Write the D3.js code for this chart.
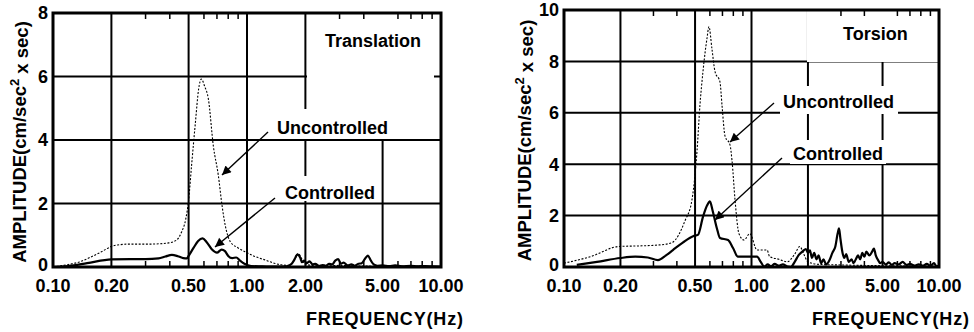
<!DOCTYPE html>
<html><head><meta charset="utf-8">
<script src="https://cdn.jsdelivr.net/npm/d3@7"></script>
<style>
html,body{margin:0;padding:0;background:#fff;}
svg{display:block;font-family:"Liberation Sans",Arial,Helvetica,sans-serif;}
</style></head>
<body><svg id="c" width="974" height="332"></svg>
<script>
// ---------- data ----------
const xTickValues = [0.1, 0.2, 0.5, 1, 2, 5, 10];
const xTickLabels = ["0.10", "0.20", "0.50", "1.00", "2.00", "5.00", "10.00"];
const xMinorTicks = [0.3, 0.4, 0.6, 0.7, 0.8, 0.9, 3, 4, 6, 7, 8, 9];
const yTicksTranslation = [0, 2, 4, 6, 8];
const yTicksTorsion = [0, 2, 4, 6, 8, 10];
const panelTitles = ["Translation", "Torsion"];
const seriesNames = ["Uncontrolled", "Controlled"];
const xAxisTitle = "FREQUENCY(Hz)";

// Translation: [frequency Hz, amplitude]
const translationUncontrolled = [
 [0.10,0.0],[0.12,0.08],[0.137,0.16],[0.155,0.3],[0.174,0.45],[0.19,0.58],[0.20,0.65],[0.22,0.7],[0.24,0.72],
 [0.28,0.72],[0.31,0.72],[0.35,0.73],[0.395,0.76],[0.434,0.85],[0.46,1.1],[0.483,1.5],[0.50,2.1],[0.518,3.2],
 [0.543,4.6],[0.563,5.6],[0.582,5.92],[0.604,5.7],[0.632,5.3],[0.671,3.8],[0.711,2.9],[0.745,1.9],[0.773,1.3],
 [0.82,0.8],[0.90,0.6],[1.0,0.45],[1.1,0.33],[1.24,0.22],[1.38,0.12],[1.5,0.07],[1.65,0.05],[1.75,0.2],
 [1.84,0.42],[1.9,0.3],[1.97,0.12],[2.1,0.06],[2.5,0.03],[3,0.05],[4,0.03],[5,0.02],[7,0.02],[10,0.01]
];
const translationControlled = [
 [0.10,0],[0.12,0.03],[0.15,0.12],[0.20,0.24],[0.25,0.25],[0.30,0.25],[0.35,0.27],[0.38,0.33],[0.41,0.38],
 [0.44,0.34],[0.47,0.28],[0.49,0.27],[0.50,0.35],[0.53,0.6],[0.56,0.82],[0.59,0.9],[0.62,0.78],[0.66,0.55],
 [0.70,0.45],[0.74,0.55],[0.77,0.5],[0.80,0.35],[0.84,0.28],[0.88,0.3],[0.92,0.2],[0.97,0.1],[1.05,0.03],
 [1.2,0.02],[1.4,0.01],[1.6,0.02],[1.7,0.1],[1.76,0.25],[1.82,0.4],[1.88,0.3],[1.92,0.15],[1.97,0.2],
 [2.03,0.12],[2.1,0.18],[2.18,0.08],[2.25,0.1],[2.35,0.03],[2.45,0.06],[2.55,0.04],[2.65,0.1],[2.75,0.08],
 [2.85,0.2],[2.95,0.25],[3.05,0.1],[3.15,0.14],[3.3,0.05],[3.45,0.08],[3.6,0.04],[3.75,0.1],[3.9,0.12],
 [4.05,0.25],[4.2,0.36],[4.35,0.2],[4.5,0.08],[4.7,0.04],[5.0,0.05],[5.4,0.03],[5.8,0.05],[6.3,0.02],
 [7,0.04],[7.6,0.02],[8.3,0.03],[9,0.02],[10,0.01]
];
// Torsion
const torsionUncontrolled = [
 [0.10,0.15],[0.138,0.4],[0.197,0.8],[0.25,0.82],[0.325,0.86],[0.377,0.95],[0.442,1.8],[0.481,2.6],[0.50,3.6],
 [0.512,4.5],[0.531,6.3],[0.551,7.6],[0.579,8.9],[0.593,9.35],[0.615,8.5],[0.639,7.6],[0.679,7.2],[0.696,6.3],
 [0.722,5.1],[0.768,4.75],[0.787,4.15],[0.817,2.6],[0.857,1.3],[0.912,1.05],[0.98,1.3],[1.07,0.66],[1.21,0.66],
 [1.25,0.4],[1.4,0.3],[1.55,0.2],[1.7,0.5],[1.81,0.8],[1.9,0.5],[2.0,0.2],[2.3,0.1],[3,0.08],[4,0.06],
 [5,0.05],[7,0.04],[10,0.03]
];
const torsionControlled = [
 [0.117,0.08],[0.15,0.2],[0.2,0.35],[0.24,0.4],[0.28,0.37],[0.317,0.27],[0.35,0.45],[0.381,0.66],[0.43,0.95],
 [0.488,1.2],[0.518,1.25],[0.551,1.95],[0.58,2.4],[0.60,2.55],[0.62,2.2],[0.654,1.5],[0.679,1.13],[0.75,1.05],
 [0.797,0.74],[0.846,0.4],[0.95,0.4],[1.07,0.4],[1.12,0.2],[1.17,0.02],[1.22,0.1],[1.27,0.03],[1.33,0.12],
 [1.4,0.05],[1.47,0.1],[1.55,0.02],[1.62,0.0],[1.7,0.2],[1.78,0.45],[1.88,0.62],[1.95,0.7],[2.0,0.55],
 [2.05,0.65],[2.1,0.35],[2.16,0.55],[2.22,0.3],[2.28,0.45],[2.35,0.15],[2.42,0.3],[2.5,0.1],[2.6,0.25],
 [2.7,0.55],[2.8,0.8],[2.88,1.3],[2.93,1.5],[2.98,1.1],[3.05,0.6],[3.12,0.35],[3.2,0.5],[3.3,0.2],[3.42,0.3],
 [3.5,0.15],[3.6,0.3],[3.7,0.45],[3.8,0.3],[3.9,0.55],[4.0,0.4],[4.1,0.6],[4.25,0.45],[4.4,0.6],[4.5,0.72],
 [4.6,0.45],[4.75,0.25],[4.85,0.15],[5.0,0.2],[5.2,0.1],[5.4,0.18],[5.6,0.08],[5.8,0.15],[6.1,0.1],[6.4,0.2],
 [6.7,0.08],[7.0,0.12],[7.4,0.05],[7.8,0.1],[8.2,0.05],[8.6,0.12],[9.0,0.04],[9.4,0.15],[9.7,0.03],[10,0.05]
];

// ---------- drawing ----------
const svg = d3.select("#c");
const defs = svg.append("defs");
defs.append("marker").attr("id","ah").attr("viewBox","0 0 10 10").attr("refX",10).attr("refY",5)
  .attr("markerWidth",12).attr("markerHeight",9).attr("markerUnits","userSpaceOnUse").attr("orient","auto")
  .append("path").attr("d","M0,0L10,5L0,10Z").attr("fill","#000");

const panels = [
  {x0:53, x1:441, y0:267, y1:13, ymax:8, yticks:yTicksTranslation, title:panelTitles[0],
   unc:translationUncontrolled, con:translationControlled,
   titlePos:[325,46.5], uncPos:[277,134], conPos:[285,199],
   uncArrow:[[268,132],[222,175]], conArrow:[[275,198],[215,247]],
   masks:[[307,14,133,125],[275,109,114,30],[283,176,94,25]], rightTick:6,
   ylabX:19, xTitleEnd:463},
  {x0:564, x1:939, y0:267, y1:10, ymax:10, yticks:yTicksTorsion, title:panelTitles[1],
   unc:torsionUncontrolled, con:torsionControlled,
   titlePos:[843,40], uncPos:[783,108], conPos:[793,160],
   uncArrow:[[774,103],[730,142]], conArrow:[[782,158],[715,220]],
   masks:[[807,11,131,51],[780,86,118,28],[790,140,96,24]], rightTick:null,
   ylabX:524, xTitleEnd:969}
];

panels.forEach(p => {
  const g = svg.append("g");
  const x = d3.scaleLog().domain([0.1,10]).range([p.x0,p.x1]);
  const y = d3.scaleLinear().domain([0,p.ymax]).range([p.y0,p.y1]);

  // grid
  g.selectAll(".vg").data(xTickValues.slice(1,-1)).enter().append("line")
    .attr("x1",d=>x(d)).attr("x2",d=>x(d)).attr("y1",y(0)).attr("y2",y(p.ymax))
    .attr("stroke","#000").attr("stroke-width",2);
  g.selectAll(".hg").data(p.yticks.slice(1,-1)).enter().append("line")
    .attr("x1",x(0.1)).attr("x2",x(10)).attr("y1",d=>y(d)).attr("y2",d=>y(d))
    .attr("stroke","#000").attr("stroke-width",2);
  // label masks
  p.masks.forEach(m => g.append("rect").attr("x",m[0]).attr("y",m[1]).attr("width",m[2]).attr("height",m[3]).attr("fill","#fff"));

  // minor ticks top & bottom (inward)
  g.selectAll(".mt").data(xMinorTicks).enter().append("line")
    .attr("x1",d=>x(d)).attr("x2",d=>x(d)).attr("y1",y(p.ymax)).attr("y2",y(p.ymax)+6)
    .attr("stroke","#000").attr("stroke-width",1.5);
  g.selectAll(".mb").data(xMinorTicks).enter().append("line")
    .attr("x1",d=>x(d)).attr("x2",d=>x(d)).attr("y1",y(0)).attr("y2",y(0)-6)
    .attr("stroke","#000").attr("stroke-width",1.5);
  if (p.rightTick !== null) {
    g.append("line").attr("x1",x(10)).attr("x2",x(10)-7).attr("y1",y(p.rightTick)).attr("y2",y(p.rightTick))
      .attr("stroke","#000").attr("stroke-width",2);
  }

  // curves
  const line = d3.line().x(d=>x(d[0])).y(d=>y(d[1])).curve(d3.curveMonotoneX);
  g.append("path").attr("d",line(p.unc)).attr("fill","none").attr("stroke","#000")
    .attr("stroke-width",1.1).attr("stroke-dasharray","2,1.6");
  g.append("path").attr("d",line(p.con)).attr("fill","none").attr("stroke","#000")
    .attr("stroke-width",2.2).attr("stroke-linejoin","round");

  // frame
  g.append("rect").attr("x",p.x0).attr("y",p.y1).attr("width",p.x1-p.x0).attr("height",p.y0-p.y1)
    .attr("fill","none").attr("stroke","#000").attr("stroke-width",3);

  // axes labels
  g.selectAll(".xl").data(xTickValues).enter().append("text")
    .attr("x",d=>x(d)).attr("y",292).attr("text-anchor","middle")
    .attr("font-size",18).attr("font-weight","bold").text((d,i)=>xTickLabels[i]);
  g.selectAll(".yl").data(p.yticks).enter().append("text")
    .attr("x",p.x0-5).attr("y",d=>y(d)).attr("dy",d=>d===0?"0.2em":"0.36em").attr("text-anchor","end")
    .attr("font-size",18).attr("font-weight","bold").text(d=>d);
  g.append("text").attr("x",p.xTitleEnd).attr("y",325).attr("text-anchor","end")
    .attr("font-size",18).attr("font-weight","bold").attr("textLength",157).attr("lengthAdjust","spacing")
    .text(xAxisTitle);
  const yl = g.append("text").attr("transform",`translate(${p.ylabX},${(p.y0+p.y1)/2+2}) rotate(-90)`)
    .attr("dy","0.36em").attr("text-anchor","middle").attr("font-size",18.5).attr("font-weight","bold");
  yl.append("tspan").text("AMPLITUDE(cm/sec");
  yl.append("tspan").attr("font-size",13).attr("dy","-0.5em").text("2");
  yl.append("tspan").attr("dy","0.5em").text(" x sec)");

  // annotations
  const tstyle = s => s.attr("font-size",18).attr("font-weight","bold").attr("fill","#000");
  g.append("text").attr("x",p.titlePos[0]).attr("y",p.titlePos[1]).text(p.title).call(tstyle);
  g.append("text").attr("x",p.uncPos[0]).attr("y",p.uncPos[1]).text(seriesNames[0]).call(tstyle);
  g.append("text").attr("x",p.conPos[0]).attr("y",p.conPos[1]).text(seriesNames[1]).call(tstyle);
  [p.uncArrow, p.conArrow].forEach(a => {
    g.append("line").attr("x1",a[0][0]).attr("y1",a[0][1]).attr("x2",a[1][0]).attr("y2",a[1][1])
      .attr("stroke","#000").attr("stroke-width",1.4).attr("marker-end","url(#ah)");
  });
});
</script></body></html>
